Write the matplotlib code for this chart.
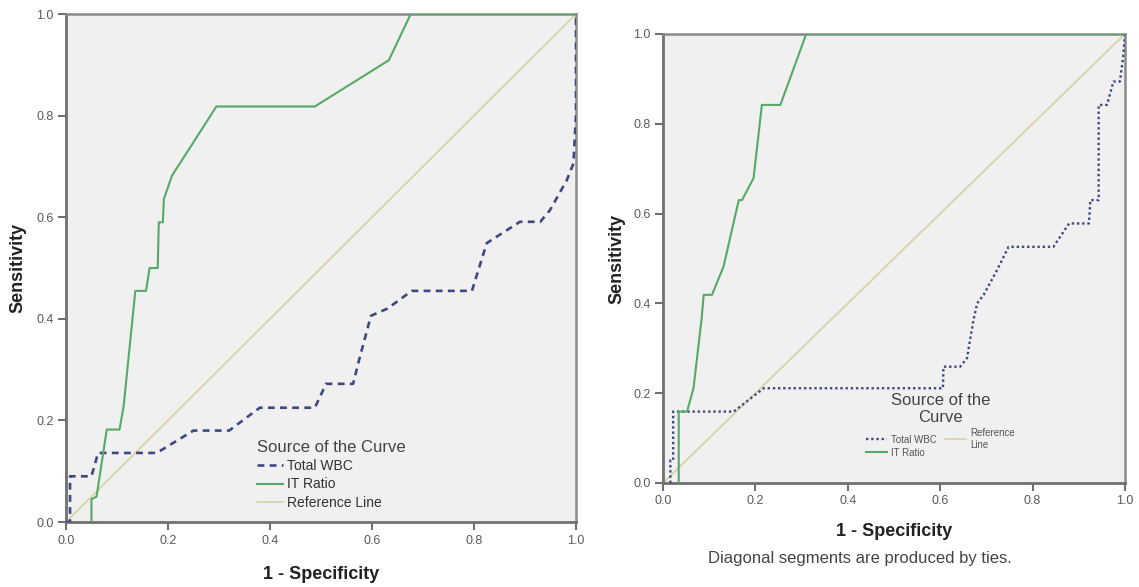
#==============================================================================
# Two ROC curves: Total WBC and IT Ratio against a reference line
#==============================================================================

import numpy as np
import matplotlib
matplotlib.use('Agg')
import matplotlib.pyplot as plt

plt.rcParams['font.family'] = ['Liberation Sans', 'DejaVu Sans']

#==============================================================================
# Data
#==============================================================================
# left panel
left_it_x = [0.05, 0.05, 0.06, 0.08, 0.105, 0.113, 0.136, 0.157, 0.164, 0.18,
             0.182, 0.19, 0.192, 0.208, 0.295, 0.488, 0.633, 0.676, 1.0]
left_it_y = [0.0, 0.045, 0.05, 0.182, 0.182, 0.227, 0.455, 0.455, 0.5, 0.5,
             0.59, 0.59, 0.636, 0.682, 0.818, 0.818, 0.909, 1.0, 1.0]

left_wbc_x = [0.0, 0.008, 0.008, 0.05, 0.063, 0.178, 0.25, 0.32, 0.38, 0.488,
              0.51, 0.563, 0.575, 0.598, 0.63, 0.678, 0.796, 0.825, 0.89, 0.93,
              0.949, 0.982, 0.995, 0.998, 1.0, 1.0]
left_wbc_y = [0.0, 0.0, 0.09, 0.09, 0.136, 0.136, 0.18, 0.18, 0.225, 0.225,
              0.272, 0.272, 0.32, 0.406, 0.42, 0.455, 0.455, 0.549, 0.591, 0.591,
              0.614, 0.673, 0.706, 0.765, 0.80, 1.0]

# right panel
right_it_x = [0.034, 0.034, 0.052, 0.066, 0.084, 0.088, 0.106, 0.131, 0.164,
              0.171, 0.196, 0.214, 0.254, 0.31, 1.0]
right_it_y = [0.0, 0.159, 0.159, 0.211, 0.37, 0.419, 0.419, 0.482, 0.63,
              0.63, 0.679, 0.842, 0.842, 1.0, 1.0]

right_wbc_x = [0.016, 0.016, 0.022, 0.022, 0.153, 0.218, 0.606, 0.607, 0.643,
               0.658, 0.672, 0.68, 0.694, 0.723, 0.748, 0.845, 0.879, 0.922,
               0.925, 0.943, 0.943, 0.961, 0.975, 0.989, 0.996, 1.0]
right_wbc_y = [0.0, 0.051, 0.051, 0.159, 0.159, 0.211, 0.211, 0.259, 0.259,
               0.278, 0.363, 0.4, 0.419, 0.474, 0.526, 0.526, 0.578, 0.578,
               0.63, 0.63, 0.842, 0.842, 0.894, 0.894, 0.949, 1.0]

ref_x = [0.0, 1.0]
ref_y = [0.0, 1.0]

ticks = [0.0, 0.2, 0.4, 0.6, 0.8, 1.0]
tick_labels = ['0.0', '0.2', '0.4', '0.6', '0.8', '1.0']

#==============================================================================
# Styling
#==============================================================================
green = '#55aa66'
blue = '#3f4880'
tan = '#d6d3a8'
panel_bg = '#f0f0f0'
spine_col = '#707070'

def style_axes(ax, xlabel_y, ylabel_x):
    ax.set_facecolor(panel_bg)
    ax.set_xlim(0, 1)
    ax.set_ylim(0, 1)
    ax.set_xticks(ticks)
    ax.set_xticklabels(tick_labels)
    ax.set_yticks(ticks)
    ax.set_yticklabels(tick_labels)
    for side in ['left', 'bottom']:
        ax.spines[side].set_linewidth(2.0)
        ax.spines[side].set_color(spine_col)
    for side in ['top', 'right']:
        ax.spines[side].set_linewidth(1.8)
        ax.spines[side].set_color('#8a8a8a')
    ax.tick_params(direction='out', length=5.5, width=1.5, color=spine_col,
                   labelsize=9, labelcolor='#5a5a5a', pad=3.5)
    ax.set_xlabel('1 - Specificity', fontsize=13, fontweight='bold',
                  color='#222222')
    ax.set_ylabel('Sensitivity', fontsize=13, fontweight='bold',
                  color='#222222')
    ax.xaxis.set_label_coords(0.5, xlabel_y)
    ax.xaxis.label.set_va('center')
    ax.yaxis.set_label_coords(ylabel_x, 0.5)
    ax.yaxis.label.set_va('center')

fig = plt.figure(figsize=(11.39, 5.87), dpi=100)
ax1 = fig.add_axes([0.0579, 0.1107, 0.4478, 0.8654])
ax2 = fig.add_axes([0.5821, 0.1772, 0.4056, 0.7649])

#==============================================================================
# Left panel
#==============================================================================
ax1.plot(ref_x, ref_y, color=tan, linewidth=1.3, label='Reference Line',
         zorder=2)
ax1.plot(left_wbc_x, left_wbc_y, color=blue, linewidth=1.9,
         dashes=(2.6, 2.0), label='Total WBC', zorder=3)
ax1.plot(left_it_x, left_it_y, color=green, linewidth=1.5, label='IT Ratio',
         zorder=4)
style_axes(ax1, -0.104, -0.094)

h, l = ax1.get_legend_handles_labels()
order = [1, 2, 0]
leg1 = ax1.legend([h[i] for i in order], [l[i] for i in order],
                  title='Source of the Curve', loc='upper left',
                  bbox_to_anchor=(0.36, 0.175), frameon=False, fontsize=10,
                  title_fontsize=12, alignment='left', borderpad=0,
                  labelspacing=0.3, handlelength=1.9, handletextpad=0.3)
leg1.get_title().set_color('#444444')
for t in leg1.get_texts():
    t.set_color('#333333')

#==============================================================================
# Right panel
#==============================================================================
ax2.plot(ref_x, ref_y, color=tan, linewidth=1.3, label='Reference\nLine',
         zorder=2)
ax2.plot(right_wbc_x, right_wbc_y, color=blue, linewidth=1.7,
         dashes=(1.0, 1.2), label='Total WBC', zorder=3)
ax2.plot(right_it_x, right_it_y, color=green, linewidth=1.5, label='IT Ratio',
         zorder=4)
style_axes(ax2, -0.107, -0.0996)

h, l = ax2.get_legend_handles_labels()
leg2 = ax2.legend([h[1], h[2], h[0]], [l[1], l[2], l[0]],
                  title='Source of the\nCurve', loc='upper center',
                  bbox_to_anchor=(0.6, 0.212), frameon=False, ncol=2,
                  fontsize=7, title_fontsize=12, alignment='center',
                  borderpad=0, labelspacing=0.3, handlelength=2.2,
                  handletextpad=0.4, columnspacing=0.8)
leg2.get_title().set_color('#444444')
leg2.get_title().set_multialignment('center')
for t in leg2.get_texts():
    t.set_color('#555555')

fig.text(859.5 / 1139, 1 - 559 / 587, 'Diagonal segments are produced by ties.',
         ha='center', va='center', fontsize=12, color='#444444')

plt.savefig('out.png', dpi=100)

#EOF
